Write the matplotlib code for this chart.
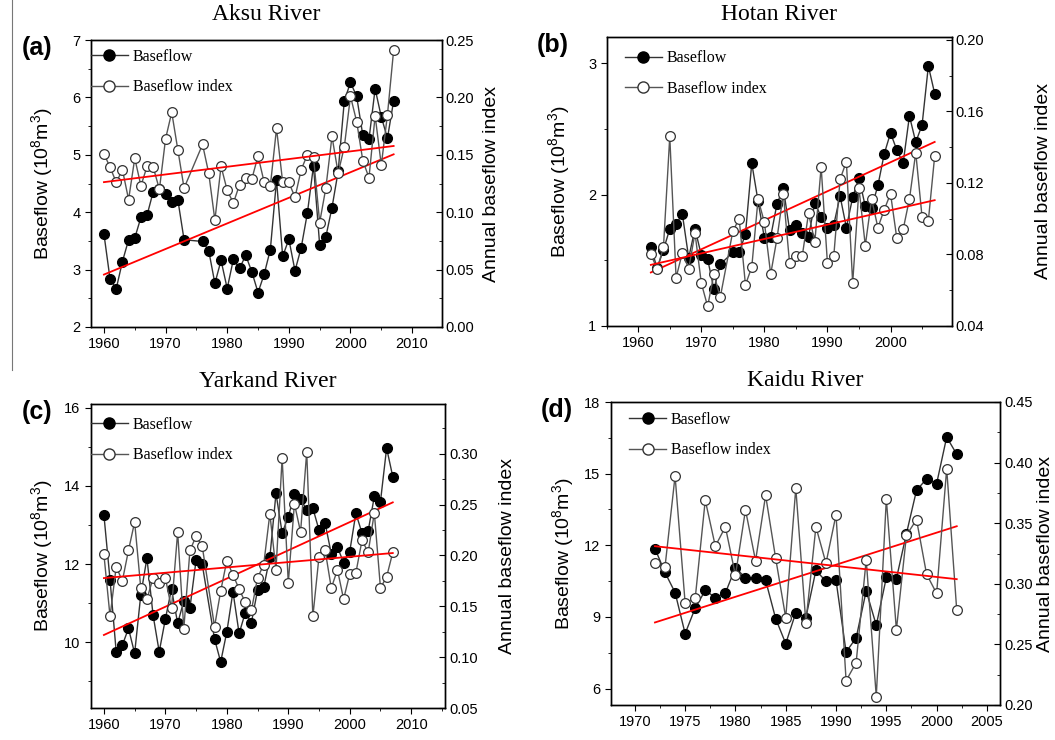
import numpy as np
import matplotlib
matplotlib.use('Agg')
import matplotlib.pyplot as plt
from matplotlib.lines import Line2D
from matplotlib.ticker import MultipleLocator, FormatStrFormatter

plt.rcParams['font.family'] = ['Liberation Sans', 'DejaVu Sans']
plt.rcParams['mathtext.fontset'] = 'custom'
plt.rcParams['mathtext.rm'] = 'Liberation Sans'
plt.rcParams['mathtext.it'] = 'Liberation Sans:italic'

# Aksu River (no values for 1974-1975)
aksu_years = list(range(1960, 1974)) + list(range(1976, 2008))
aksu_bf = [3.62, 2.83, 2.67, 3.14, 3.52, 3.55, 3.91, 3.95, 4.36, 4.40, 4.32, 4.18, 4.21, 3.52,
           3.49, 3.33, 2.76, 3.16, 2.67, 3.18, 3.02, 3.25, 2.96, 2.60, 2.92, 3.35, 4.56, 3.23,
           3.53, 2.98, 3.38, 3.98, 4.81, 3.43, 3.57, 4.08, 4.71, 5.94, 6.26, 6.02, 5.34, 5.27,
           6.15, 5.66, 5.29, 5.94]
aksu_bfi = [0.151, 0.139, 0.126, 0.137, 0.111, 0.147, 0.123, 0.140, 0.139, 0.120, 0.164, 0.187,
            0.154, 0.121, 0.159, 0.134, 0.093, 0.140, 0.119, 0.108, 0.124, 0.130, 0.129, 0.149,
            0.126, 0.123, 0.173, 0.126, 0.126, 0.113, 0.137, 0.150, 0.148, 0.091, 0.121, 0.166,
            0.134, 0.157, 0.201, 0.179, 0.145, 0.130, 0.184, 0.141, 0.185, 0.241]

# Hotan River (no values for 1974)
hotan_years = list(range(1962, 1974)) + list(range(1975, 2008))
hotan_bf = [1.60, 1.44, 1.58, 1.74, 1.78, 1.85, 1.52, 1.74, 1.54, 1.51, 1.28, 1.47,
            1.56, 1.56, 1.70, 2.24, 1.95, 1.67, 1.68, 1.93, 2.05, 1.73, 1.77, 1.71, 1.68,
            1.94, 1.83, 1.75, 1.77, 1.99, 1.75, 1.98, 2.13, 1.91, 1.90, 2.07, 2.31, 2.47,
            2.34, 2.24, 2.60, 2.40, 2.53, 2.98, 2.77]
hotan_bfi = [0.080, 0.072, 0.084, 0.146, 0.067, 0.081, 0.072, 0.092, 0.064, 0.051, 0.069, 0.056,
             0.093, 0.100, 0.063, 0.073, 0.111, 0.098, 0.069, 0.089, 0.114, 0.075, 0.079, 0.079,
             0.103, 0.087, 0.129, 0.075, 0.079, 0.122, 0.132, 0.064, 0.117, 0.085, 0.111, 0.095,
             0.105, 0.114, 0.089, 0.094, 0.111, 0.137, 0.101, 0.099, 0.135]

# Yarkand River (no values for 1977)
yarkand_years = list(range(1960, 1977)) + list(range(1978, 2008))
yarkand_bf = [13.26, 11.59, 9.75, 9.92, 10.35, 9.71, 11.21, 12.15, 10.69, 9.75, 10.59, 11.36,
              10.48, 11.05, 10.88, 12.10, 11.99,
              10.08, 9.49, 10.26, 11.29, 10.22, 10.75, 10.50, 11.33, 11.40, 12.17, 13.81, 12.80,
              13.20, 13.79, 13.67, 13.38, 13.43, 12.87, 13.04, 12.26, 12.44, 12.03, 12.32, 13.30,
              12.79, 12.85, 13.73, 13.60, 14.97, 14.24]
yarkand_bfi = [0.201, 0.140, 0.189, 0.175, 0.205, 0.233, 0.168, 0.157, 0.178, 0.173, 0.178, 0.148,
               0.223, 0.128, 0.205, 0.219, 0.209,
               0.130, 0.165, 0.195, 0.181, 0.167, 0.154, 0.146, 0.178, 0.191, 0.241, 0.186, 0.296,
               0.173, 0.251, 0.223, 0.302, 0.140, 0.199, 0.205, 0.168, 0.186, 0.157, 0.182, 0.183,
               0.215, 0.203, 0.242, 0.168, 0.179, 0.203]

# Kaidu River
kaidu_years = list(range(1972, 2003))
kaidu_bf = [11.86, 10.86, 10.02, 8.30, 9.37, 10.11, 9.81, 10.00, 11.06, 10.63, 10.63, 10.53,
            8.93, 7.88, 9.18, 8.97, 10.95, 10.49, 10.53, 7.53, 8.12, 10.09, 8.65, 10.65, 10.60,
            12.49, 14.30, 14.78, 14.58, 16.53, 15.81]
kaidu_bfi = [0.317, 0.314, 0.389, 0.284, 0.288, 0.369, 0.331, 0.347, 0.307, 0.361, 0.319, 0.373,
             0.321, 0.272, 0.379, 0.268, 0.347, 0.317, 0.357, 0.220, 0.235, 0.320, 0.207, 0.370,
             0.262, 0.340, 0.353, 0.308, 0.292, 0.395, 0.278]

W, H = 1055, 740


def px_rect(x0, y0, x1, y1):
    return [x0 / W, 1 - y1 / H, (x1 - x0) / W, (y1 - y0) / H]


def draw_panel(fig, rect, years, bf, bfi, title, letter, xlim, ylim_l, ylim_r,
               xmaj, xmin, lmaj, lmin, rmaj, rmin, leg_anchor, title_y, lab_x, rlab_x):
    ax = fig.add_axes(px_rect(*rect))
    ax2 = ax.twinx()
    yrs = np.array(years, dtype=float)

    ax.plot(yrs, bf, '-', color='#333333', lw=1.0, marker='o', ms=7, mfc='black',
            mec='black', zorder=3)
    ax2.plot(yrs, bfi, '-', color='#555555', lw=1.0, marker='o', ms=7, mfc='white',
             mec='#333333', mew=0.9, zorder=3)

    # linear trends
    p1 = np.polyfit(yrs, bf, 1)
    p2 = np.polyfit(yrs, bfi, 1)
    xx = np.array([yrs[0], yrs[-1]])
    ax.plot(xx, np.polyval(p1, xx), color='red', lw=1.3, zorder=4)
    ax2.plot(xx, np.polyval(p2, xx), color='red', lw=1.3, zorder=4)

    ax.set_xlim(*xlim)
    ax.set_ylim(*ylim_l)
    ax2.set_ylim(*ylim_r)
    ax.xaxis.set_major_locator(MultipleLocator(xmaj))
    ax.xaxis.set_minor_locator(MultipleLocator(xmin))
    ax.yaxis.set_major_locator(MultipleLocator(lmaj))
    ax.yaxis.set_minor_locator(MultipleLocator(lmin))
    ax.yaxis.set_major_formatter(FormatStrFormatter('%d'))
    ax2.yaxis.set_major_locator(MultipleLocator(rmaj))
    ax2.yaxis.set_minor_locator(MultipleLocator(rmin))
    ax2.yaxis.set_major_formatter(FormatStrFormatter('%.2f'))

    ax.tick_params(axis='both', which='both', direction='out', labelsize=10.5)
    ax.tick_params(which='major', length=4)
    ax.tick_params(which='minor', length=2.5)
    ax2.tick_params(axis='y', which='both', direction='in', labelsize=10.5, pad=3)
    ax2.tick_params(which='major', length=4)
    ax2.tick_params(which='minor', length=2.5)
    for a in (ax, ax2):
        for s in a.spines.values():
            s.set_linewidth(1.0)

    handles = [Line2D([], [], color='#333333', lw=1.0, marker='o', ms=8, mfc='black', mec='black'),
               Line2D([], [], color='#555555', lw=1.0, marker='o', ms=8, mfc='white', mec='#333333')]
    ax2.legend(handles, ['Baseflow', 'Baseflow index'], loc='upper left',
               bbox_to_anchor=leg_anchor, frameon=False, borderpad=0, borderaxespad=0,
               handlelength=2.3, handletextpad=0.3, labelspacing=0.9,
               prop={'family': 'Liberation Serif', 'size': 11.5})

    x0, y0, x1, y1 = rect
    fig.text((x0 + x1) / 2 / W, 1 - title_y / H, title, ha='center', va='center',
             family='Liberation Serif', fontsize=17)
    fig.text((x0 - 54) / W, 1 - (y0 + 8) / H, letter, ha='center', va='center',
             fontsize=18, fontweight='bold')
    fig.text(lab_x / W, 1 - (y0 + y1) / 2 / H, r'Baseflow (10$^8$m$^3$)', rotation=90,
             ha='center', va='center', fontsize=14)
    fig.text(rlab_x / W, 1 - (y0 + y1) / 2 / H, 'Annual baseflow index', rotation=90,
             ha='center', va='center', fontsize=14)
    return ax, ax2


fig = plt.figure(figsize=(W / 100, H / 100), dpi=100)

draw_panel(fig, (91, 40, 441.7, 327), aksu_years, aksu_bf, aksu_bfi, 'Aksu River', '(a)',
           (1957.9, 2014.8), (2, 7), (0, 0.25), 10, 5, 1, 0.5, 0.05, 0.025,
           (0.0, 0.969), 15, 42, 492)
draw_panel(fig, (606.7, 36.7, 951.7, 326), hotan_years, hotan_bf, hotan_bfi, 'Hotan River', '(b)',
           (1955.0, 2009.7), (1, 3.203), (0.04, 0.2018), 10, 5, 1, 0.5, 0.04, 0.02,
           (0.053, 0.953), 15, 559, 1043)
draw_panel(fig, (91, 404, 445, 708), yarkand_years, yarkand_bf, yarkand_bfi, 'Yarkand River', '(c)',
           (1957.9, 2015.5), (8.31, 16.1), (0.05, 0.349), 10, 5, 2, 1, 0.05, 0.025,
           (0.0, 0.958), 382, 42, 507)
draw_panel(fig, (610.7, 402, 1000, 705), kaidu_years, kaidu_bf, kaidu_bfi, 'Kaidu River', '(d)',
           (1967.6, 2006.3), (5.31, 18), (0.20, 0.45), 5, 2.5, 3, 1.5, 0.05, 0.025,
           (0.048, 0.967), 381, 563, 1045)

# thin separator line on the left edge of the top row
fig.add_artist(Line2D([12 / W, 12 / W], [1.0, 1 - 370 / H], transform=fig.transFigure,
                      color='#777777', lw=0.8))

fig.savefig('out.png', dpi=100)
